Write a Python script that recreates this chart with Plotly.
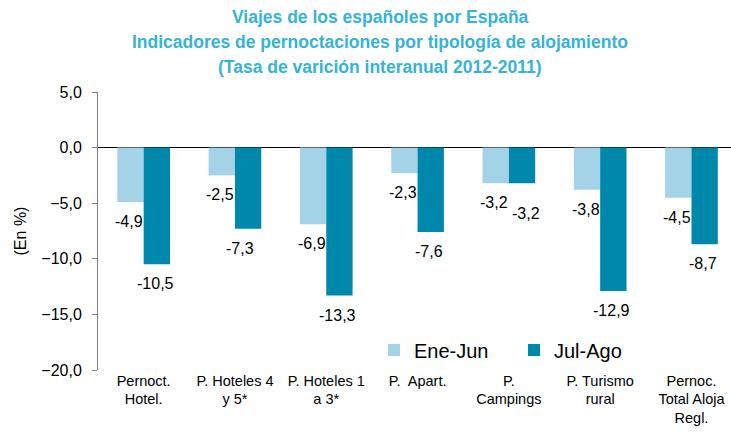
import plotly.graph_objects as go

categories = ["Pernoct.<br>Hotel.", "P. Hoteles 4<br>y 5*", "P. Hoteles 1<br>a 3*", "P.  Apart.",
              "P.<br>Campings", "P. Turismo<br>rural", "Pernoc.<br>Total Aloja<br>Regl."]
ene_jun = [-4.9, -2.5, -6.9, -2.3, -3.2, -3.8, -4.5]
jul_ago = [-10.5, -7.3, -13.3, -7.6, -3.2, -12.9, -8.7]
title_lines = ["Viajes de los españoles por España",
               "Indicadores de pernoctaciones por tipología de alojamiento",
               "(Tasa de varición interanual 2012-2011)"]

COL_A = "#A4D3E8"
COL_B = "#0088AC"
FONT = "Liberation Sans, Arial, sans-serif"

def fmt(v):
    return f"{v:.1f}".replace(".", ",")

fig = go.Figure()
fig.add_trace(go.Bar(name="Ene-Jun", x=categories, y=ene_jun, marker_color=COL_A,
                     marker_line_width=0))
fig.add_trace(go.Bar(name="Jul-Ago", x=categories, y=jul_ago, marker_color=COL_B,
                     marker_line_width=0))

# value labels placed below bar ends (pixel offsets are label styling)
base_dx = {"a": -14.5, "b": 11.5}
extra = {("b", 1): (-6, 0), ("b", 4): (6, -11)}
annotations = []
for key, series in (("a", ene_jun), ("b", jul_ago)):
    for i, v in enumerate(series):
        ex, ey = extra.get((key, i), (0, 0))
        annotations.append(dict(x=categories[i], y=v, xref="x", yref="y",
                                text=fmt(v), showarrow=False, yanchor="top",
                                xanchor="center", xshift=base_dx[key] + ex,
                                yshift=-9 + ey,
                                font=dict(size=16, color="#000000", family=FONT)))

title_y = [1.2698, 1.1799, 1.0899]
for line, yy in zip(title_lines, title_y):
    annotations.append(dict(text=f"<b>{line}</b>", x=0.4455, y=yy, xref="paper", yref="paper",
                            xanchor="center", yanchor="middle", showarrow=False,
                            font=dict(size=17.5, color="#33B4D8", family=FONT)))

fig.update_layout(
    width=731, height=440,
    paper_bgcolor="white", plot_bgcolor="white",
    font=dict(family=FONT, color="#000000"),
    separators=",.",
    barmode="group", bargap=0.423, bargroupgap=0.0,
    margin=dict(l=98, r=0, t=92, b=70, autoexpand=False),
    annotations=annotations,
    legend=dict(orientation="h", x=0.436, y=0.072, xanchor="left", yanchor="middle",
                font=dict(size=20), bgcolor="rgba(0,0,0,0)", entrywidth=95,
                entrywidthmode="pixels"),
    showlegend=True,
)
fig.update_yaxes(range=[-20, 5], dtick=5, tickformat=".1f", showgrid=False,
                 showline=True, linecolor="#7F7F7F", linewidth=1,
                 ticks="outside", ticklen=5, tickcolor="#7F7F7F",
                 tickfont=dict(size=16), ticklabelstandoff=7,
                 zeroline=True, zerolinecolor="#000000", zerolinewidth=1,
                 title=dict(text="(En %)", font=dict(size=16), standoff=10))
fig.update_xaxes(range=[-0.5, 6.433], showline=False, showgrid=False, ticks="",
                 tickfont=dict(size=14.5))

post = ("document.body.style.margin='0';"
        "document.documentElement.style.overflow='hidden';"
        "document.body.style.overflow='hidden';")
fig.write_html("out.html", post_script=post, config={"displayModeBar": False})
